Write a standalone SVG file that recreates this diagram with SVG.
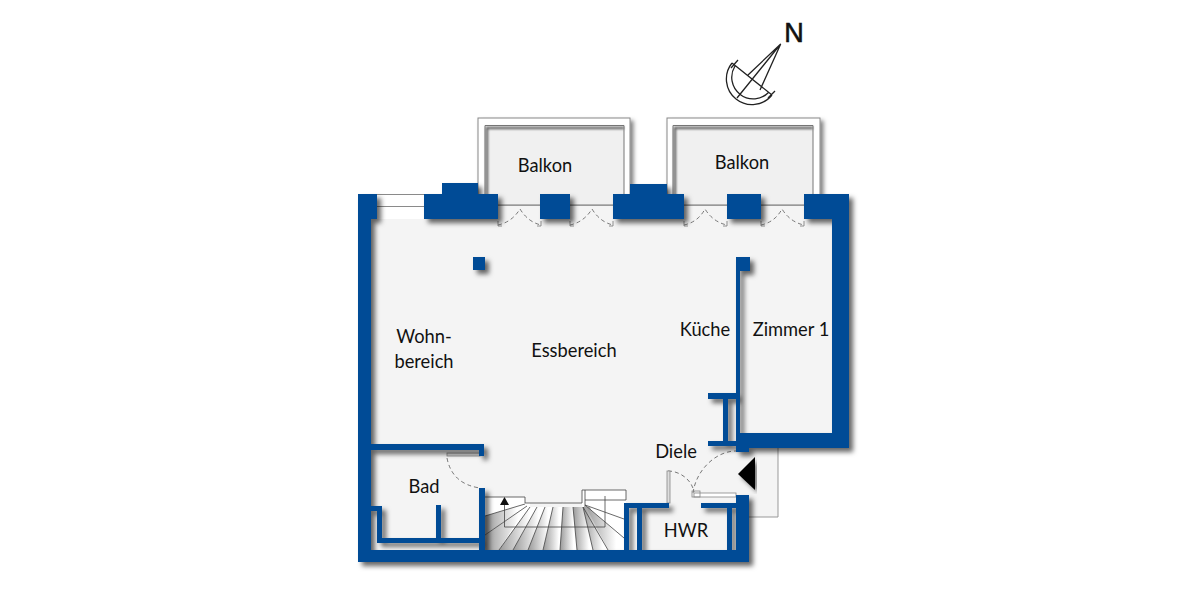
<svg xmlns="http://www.w3.org/2000/svg" width="1200" height="600" viewBox="0 0 1200 600">
<style>
text{font-family:"Lato","Carlito","Noto Sans",sans-serif;font-size:18.300px;fill:#111;text-anchor:middle}
.wall rect{fill:#054c96}
.thin{fill:none;stroke:#8a8a8a;stroke-width:1}
.dash{fill:none;stroke:#777;stroke-width:1;stroke-dasharray:4 3}
.tr path{fill:url(#tread)}
.tl{stroke:#444;stroke-width:.8;fill:none}
.c{fill:none;stroke:#222;stroke-width:1.300}
</style>
<defs>
<filter id="sh" x="-10%" y="-10%" width="120%" height="120%"><feDropShadow dx="4" dy="4" stdDeviation="2.500" flood-color="#000" flood-opacity=".6"/></filter>
<filter id="sh2" x="-10%" y="-10%" width="120%" height="120%"><feDropShadow dx="3" dy="3" stdDeviation="2" flood-color="#000" flood-opacity=".5"/></filter>
<filter id="bl" x="-10%" y="-10%" width="120%" height="120%"><feGaussianBlur stdDeviation="1.200"/></filter>
<linearGradient id="tread" x1="0" y1="0" x2="1" y2="0"><stop offset="0" stop-color="#999"/><stop offset=".8" stop-color="#fff"/></linearGradient>
</defs>
<rect width="1200" height="600" fill="#fff"/>
<g id="compass">
<path class="c" d="M732 63A25.500 25.500 0 0 0 772 95M735 66A21.500 21.500 0 0 0 769 92M732 63L772 95M731 68L738 60M768 98L775 91M737 98L780.700 44L760 90L780.700 44L748 75"/>
<text x="794" y="42" style="font-family:'Liberation Sans',sans-serif;font-size:27px;stroke:#111;stroke-width:.6">N</text>
</g>
<g id="balconies">
<rect x="478" y="118" width="152" height="80" fill="#fff" stroke="#888" filter="url(#sh2)"/>
<rect x="667" y="118" width="153" height="80" fill="#fff" stroke="#888" filter="url(#sh2)"/>
<path d="M485 205V125.500H624V205ZM673 205V125.500H813V205Z" fill="#f0f0f0" stroke="#777"/>
<path d="M487 205V128H624M675 205V128H813" fill="none" stroke="#666" stroke-width="2.500" filter="url(#bl)"/>
</g>
<g id="floor" fill="#f4f4f4">
<rect x="371" y="205" width="461" height="228"/>
<rect x="371" y="433" width="365" height="117"/>
<rect x="736" y="433" width="42" height="84"/>
<path d="M749 517H778V448" fill="none" stroke="#999"/>
<path d="M498 205.500H540M570 205.500H613M684 205.500H727M761 205.500H804" stroke="#999"/>
<rect x="371" y="511" width="6" height="39" fill="#fff"/>
<rect x="371" y="543" width="108" height="7" fill="#fff"/>
<rect x="629" y="508" width="8" height="42" fill="#fff"/>
<rect x="732" y="508" width="4" height="42" fill="#fff"/>
</g>
<g id="window">
<rect x="377" y="194" width="47" height="25" fill="#fff"/>
<path class="thin" d="M377 194.500H424M377 206.500H424"/>
</g>
<g id="stairs">
<path d="M485 497H525V503H530V507H582V490H626V507H624V550H485Z" fill="#fff"/>
<g class="tr">
<path d="M485 516L525 504V507L485 535Z"/>
<path d="M485 535L527 506L499 550H485Z"/>
<path d="M499 550L530 507H537L513 550Z"/>
<path d="M513 550L537 507H545L528 550Z"/>
<path d="M528 550L545 507H553L543 550Z"/>
<path d="M543 550L553 507H563L560 550Z"/>
<path d="M560 550L563 507H573L577 550Z"/>
<path d="M577 550L573 507H583L593 550Z"/>
<path d="M593 550L583 507H590L608 550Z"/>
<path d="M608 550L585 505L624 538V550Z"/>
</g>
<path class="tl" d="M485 516L525 504M485 535L527 506M499 550L530 507M513 550L537 507M528 550L545 507M543 550L553 507M560 550L563 507M577 550L573 507M593 550L583 507M608 550L583 507M624 538L585 505M624 519L585 505M485 497H525V503H530M582 503V490H626V500M585 490V507M585 500H626M530 503H582"/>
<path class="tl" d="M504.500 503V527H605V496"/>
<path d="M504.500 497L500 505H509Z" fill="#111"/>
</g>
<g id="doors">
<path class="dash" d="M498 225Q512 222 520 209Q528 222 541 225M570 225Q584 222 592 209Q600 222 613 225M684 225Q698 222 705 209Q713 222 727 225M761 225Q775 222 782 209Q790 222 804 225"/>
<path d="M498 221V226H502M541 221V226H537M570 221V226H574M613 221V226H609M684 221V226H688M727 221V226H723M761 221V226H765M804 221V226H800" fill="none" stroke="#777" stroke-width=".8"/>
<path class="dash" d="M447 458Q452 484 480 488M693 493C696 470 716 451 736 451M668 471C680 471 692 480 694 492"/>
<rect x="447" y="453" width="33" height="3" fill="#ddd" stroke="#888" stroke-width=".8"/>
<rect x="667" y="471" width="3" height="32" fill="#ddd" stroke="#888" stroke-width=".8"/>
<rect x="694" y="493" width="42" height="4" fill="#fff" stroke="#888" stroke-width=".8"/>
<rect x="692" y="491" width="8" height="6" fill="none" stroke="#888" stroke-width=".8"/>
</g>
<g id="walls" class="wall" filter="url(#sh)">
<rect x="358" y="194" width="13" height="368"/>
<rect x="358" y="194" width="19" height="25"/>
<rect x="424" y="194" width="74" height="25"/>
<rect x="442" y="183" width="36" height="12"/>
<rect x="540" y="194" width="30" height="25"/>
<rect x="613" y="194" width="71" height="25"/>
<rect x="630" y="184" width="37" height="11"/>
<rect x="727" y="194" width="34" height="25"/>
<rect x="804" y="194" width="45" height="25"/>
<rect x="832" y="194" width="17" height="254"/>
<rect x="736" y="433" width="113" height="15"/>
<rect x="736" y="257" width="4" height="191"/>
<rect x="736" y="257" width="14" height="14"/>
<rect x="736" y="445" width="13" height="7"/>
<rect x="708" y="393" width="28" height="6"/>
<rect x="708" y="441" width="28" height="5"/>
<rect x="723" y="398" width="5" height="44"/>
<rect x="473" y="257" width="12" height="13"/>
<rect x="371" y="444" width="113" height="6"/>
<rect x="479" y="444" width="5" height="12"/>
<rect x="479" y="488" width="6" height="62"/>
<rect x="377" y="538" width="102" height="5"/>
<rect x="377" y="506" width="5" height="37"/>
<rect x="370" y="506" width="12" height="5"/>
<rect x="436" y="505" width="5" height="34"/>
<rect x="358" y="550" width="391" height="12"/>
<rect x="736" y="495" width="13" height="67"/>
<rect x="701" y="503" width="35" height="5"/>
<rect x="624" y="503" width="45" height="5"/>
<rect x="624" y="503" width="5" height="47"/>
<rect x="637" y="508" width="5" height="42"/>
<rect x="727" y="508" width="5" height="42"/>
</g>
<path id="entry" d="M738 474L755 457V490Z" fill="#000" filter="url(#sh2)"/>
<g id="labels">
<text x="545" y="172">Balkon</text>
<text x="742" y="169">Balkon</text>
<text x="424" y="343">Wohn-</text>
<text x="424" y="368">bereich</text>
<text x="574" y="357">Essbereich</text>
<text x="705" y="336">Küche</text>
<text x="791" y="336">Zimmer 1</text>
<text x="676" y="458">Diele</text>
<text x="424" y="493">Bad</text>
<text x="686" y="537">HWR</text>
</g>
</svg>
